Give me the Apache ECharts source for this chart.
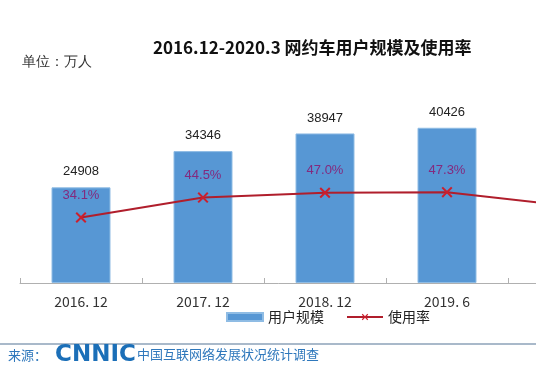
<!DOCTYPE html>
<html>
<head>
<meta charset="utf-8">
<script src="https://cdn.jsdelivr.net/npm/echarts@6/dist/echarts.min.js"></script>
<style>
html,body{margin:0;padding:0;background:#fff;}
#c{width:536px;height:383px;}
</style>
</head>
<body>
<div id="c"></div>
<script>
var categories = ['2016. 12', '2017. 12', '2018. 12', '2019. 6', '2020. 3'];
var users = [24908, 34346, 38947, 40426, 36230];
var rates = [34.1, 44.5, 47.0, 47.3, 40.1];
var titleText = '2016.12-2020.3 网约车用户规模及使用率';
var unitText = '单位：万人';
var seriesNames = ['用户规模', '使用率'];

var cjk = '"Noto Sans CJK SC", "Noto Sans", sans-serif';
var xPath = 'path://M0,1.3L1.3,0L5,3.7L8.7,0L10,1.3L6.3,5L10,8.7L8.7,10L5,6.3L1.3,10L0,8.7L3.7,5Z';

var chart = echarts.init(document.getElementById('c'), null, {renderer: 'canvas'});
chart.setOption({
  animation: false,
  backgroundColor: '#ffffff',
  title: {
    text: titleText,
    left: 148, top: 34,
    textStyle: {fontSize: 17, fontWeight: 'bold', color: '#111', fontFamily: cjk}
  },
  legend: {
    left: 221, top: 305,
    itemWidth: 36, itemHeight: 8, itemGap: 22,
    textStyle: {fontSize: 14, color: '#222', fontFamily: cjk},
    data: [
      {name: seriesNames[0], icon: 'rect'},
      {name: seriesNames[1]}
    ]
  },
  grid: {left: 20, top: 91, width: 610, height: 192, containLabel: false, outerBoundsMode: 'none'},
  xAxis: {
    type: 'category',
    data: categories,
    boundaryGap: true,
    axisLine: {lineStyle: {color: '#b0b0b0', width: 1}},
    axisTick: {show: true, inside: true, length: 5, lineStyle: {color: '#b0b0b0'}},
    axisLabel: {fontSize: 14, color: '#333', margin: 12, fontFamily: cjk}
  },
  yAxis: [
    {type: 'value', min: 0, max: 50000, show: false, splitLine: {show: false}},
    {type: 'value', min: 0, max: 100, show: false, splitLine: {show: false}}
  ],
  series: [
    {
      name: seriesNames[0],
      type: 'bar',
      data: users,
      barWidth: 59,
      yAxisIndex: 0,
      itemStyle: {color: '#5797D4', borderColor: '#8FBCE4', borderWidth: 1},
      label: {
        show: true, position: 'top', distance: 9,
        fontSize: 13, color: '#222', fontFamily: '"Liberation Sans", Arial, sans-serif'
      }
    },
    {
      name: seriesNames[1],
      type: 'line',
      data: rates,
      yAxisIndex: 1,
      symbol: xPath,
      symbolSize: 11,
      lineStyle: {color: '#B01E2C', width: 2},
      itemStyle: {color: '#CC1F2D'},
      label: {
        show: true, position: 'top', distance: 10,
        fontSize: 13, color: '#832A7E', fontFamily: '"Liberation Sans", Arial, sans-serif',
        formatter: function (p) { return p.value.toFixed(1) + '%'; }
      }
    }
  ],
  graphic: [
    {type: 'text', left: 22, top: 55, style: {text: unitText, fontSize: 14, fill: '#333', font: '14px ' + cjk}},
    {type: 'line', shape: {x1: 0, y1: 344, x2: 536, y2: 344}, style: {stroke: '#8DA2B8', lineWidth: 1.5}},
    {type: 'text', left: 8, top: 349, style: {text: '来源：', font: '13px ' + cjk, fill: '#2F78BC'}},
    {type: 'text', left: 55, top: 344, style: {text: 'CNNIC', font: 'bold 23px "DejaVu Sans", sans-serif', fill: '#1B6FB8'}},
    {type: 'text', left: 137, top: 348, style: {text: '中国互联网络发展状况统计调查', font: '13px ' + cjk, fill: '#2F78BC'}}
  ]
});
</script>
</body>
</html>
